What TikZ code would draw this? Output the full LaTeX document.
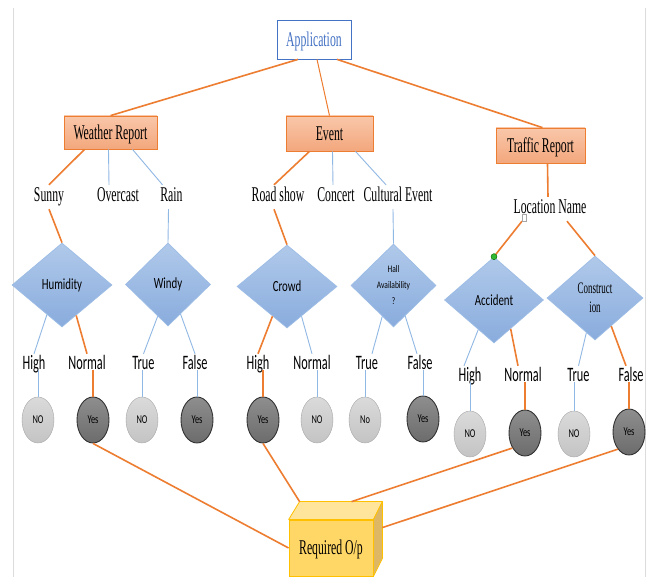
\documentclass[tikz,border=0pt]{standalone}
\usepackage{fontspec}
\usetikzlibrary{shapes.geometric,calc}
\newfontfamily\nrwserif[FakeStretch=0.56]{Liberation Serif}
\newfontfamily\nrwsans[FakeStretch=0.6]{Carlito}
\newfontfamily\dsans[FakeStretch=0.7]{Carlito}
\newfontfamily\hallsans[FakeStretch=0.75]{Carlito}
\definecolor{orangeline}{HTML}{ED7D31}
\definecolor{blueline}{HTML}{90B8E4}
\definecolor{appblue}{HTML}{4472C4}
\definecolor{salmonA}{HTML}{F9C7AA}
\definecolor{salmonB}{HTML}{F3A77C}
\definecolor{diaA}{HTML}{B0C9EA}
\definecolor{diaB}{HTML}{89ACDD}
\definecolor{diaedge}{HTML}{9DBDE6}
\definecolor{ltgA}{HTML}{DADADA}
\definecolor{ltgB}{HTML}{C4C4C4}
\definecolor{dkgA}{HTML}{8E8E8E}
\definecolor{dkgB}{HTML}{6C6C6C}
\definecolor{goldfront}{HTML}{FFD766}
\definecolor{goldtop}{HTML}{FFE49C}
\definecolor{goldside}{HTML}{DDB764}
\definecolor{goldedge}{HTML}{FFC000}
\definecolor{framegray}{HTML}{DCDCDC}
\tikzset{
  oline/.style={draw=orangeline, line width=1.6pt},
  othin/.style={draw=orangeline, line width=1pt},
  bline/.style={draw=blueline, line width=0.9pt},
  appbox/.style={draw=appblue, line width=0.8pt, fill=white, inner sep=0pt,
    minimum width=74pt, minimum height=39pt, text=appblue, text height=14pt, text depth=0pt,
    font=\nrwserif\fontsize{21}{21}\selectfont},
  catbox/.style={draw=orangeline, line width=0.8pt, top color=salmonA, bottom color=salmonB,
    inner sep=0pt, text height=14pt, text depth=0pt,
    font=\nrwserif\fontsize{21}{21}\selectfont},
  attr/.style={anchor=base, inner sep=0pt, inner ysep=3pt, text height=14pt, text depth=4pt,
    font=\nrwserif\fontsize{21}{21}\selectfont},
  leaf/.style={anchor=base, inner sep=0pt, inner ysep=3pt, text height=13pt, text depth=4pt,
    font=\nrwsans\fontsize{20.5}{20.5}\selectfont},
  decision/.style={diamond, draw=diaedge, line width=0.7pt, top color=diaA, bottom color=diaB,
    inner sep=0pt, align=center, font=\dsans\fontsize{15.5}{15.5}\selectfont},
  nocirc/.style={ellipse, draw=ltgB!85!black, line width=0.4pt, top color=ltgA, bottom color=ltgB,
    minimum width=32pt, minimum height=46pt, inner sep=0pt,
    font=\dsans\fontsize{12}{12}\selectfont},
  yescirc/.style={ellipse, draw=black!80, line width=0.9pt, top color=dkgA, bottom color=dkgB,
    minimum width=32pt, minimum height=46pt, inner sep=0pt,
    font=\dsans\fontsize{12}{12}\selectfont},
  outbox/.style={draw=goldedge, line width=0.8pt, fill=goldfront, inner sep=0pt,
    minimum width=84pt, minimum height=56pt, text height=14pt, text depth=0pt,
    font=\nrwserif\fontsize{21}{21}\selectfont},
}
\begin{document}
\begin{tikzpicture}[x=1pt,y=-1pt]
\useasboundingbox (0,0) rectangle (649,577);
\fill[white] (0,0) rectangle (649,577);
% page frame
\draw[framegray, line width=1pt] (13,8) -- (13,577);
\draw[framegray, line width=1pt] (645,8) -- (645,577);

% root and categories
\node[appbox] (app) at (314,39.5) {Application};
\node[catbox, minimum width=93pt, minimum height=33pt] (wr) at (110.5,132.5) {Weather Report};
\node[catbox, minimum width=87pt, minimum height=35pt] (ev) at (329.5,133.5) {Event};
\node[catbox, minimum width=89pt, minimum height=35pt] (tr) at (540.5,145.5) {Traffic Report};

% attribute values
\node[attr] (sunny) at (49,202) {Sunny};
\node[attr] (ovc) at (118,202) {Overcast};
\node[attr] (rain) at (171.5,202) {Rain};
\node[attr] (road) at (278,202) {Road show};
\node[attr] (conc) at (336,202) {Concert};
\node[attr] (cult) at (398,202) {Cultural Event};
\node[attr] (loc) at (550,214) {Location Name};

% decision nodes
\node[decision, minimum width=100pt, minimum height=84pt] (hum) at (62,285) {Humidity};
\node[decision, minimum width=85pt, minimum height=83pt] (windy) at (168,284.5) {Windy};
\node[decision, minimum width=100pt, minimum height=83pt] (crowd) at (287,286.5) {Crowd};
\node[decision, minimum width=85pt, minimum height=83pt,
      font=\hallsans\fontsize{10}{16}\selectfont] (hall) at (393.5,285.5) {Hall\\Availability\\?};
\node[decision, minimum width=99pt, minimum height=86pt] (acc) at (494,300) {Accident};
\node[decision, minimum width=96pt, minimum height=84pt,
      font=\nrwserif\fontsize{16}{19}\selectfont] (cons) at (595,298) {Construct\\ion};

% branch labels
\node[leaf] (l1) at (34,370) {High};
\node[leaf] (l2) at (87,370) {Normal};
\node[leaf] (l3) at (143.5,370) {True};
\node[leaf] (l4) at (195,370) {False};
\node[leaf] (l5) at (258,370) {High};
\node[leaf] (l6) at (312,370) {Normal};
\node[leaf] (l7) at (367,370) {True};
\node[leaf] (l8) at (420,370) {False};
\node[leaf] (l9) at (470,382) {High};
\node[leaf] (l10) at (523,382) {Normal};
\node[leaf] (l11) at (578.5,382) {True};
\node[leaf] (l12) at (631,382) {False};

% outcomes
\node[nocirc] (c1) at (38,420) {NO};
\node[yescirc] (c2) at (93,420) {Yes};
\node[nocirc] (c3) at (142,420) {NO};
\node[yescirc] (c4) at (197,420) {Yes};
\node[yescirc] (c5) at (263,420) {Yes};
\node[nocirc] (c6) at (317,420) {NO};
\node[nocirc] (c7) at (365,420) {No};
\node[yescirc] (c8) at (423,419) {Yes};
\node[nocirc] (c9) at (470,434) {NO};
\node[yescirc] (c10) at (525,433) {Yes};
\node[nocirc] (c11) at (574,434) {NO};
\node[yescirc] (c12) at (629,432) {Yes};

% result block drawn as a box
\node[outbox] (req) at (331,548) {Required O/p};
\coordinate (rqbl) at ($(req.north west)+(11,-18)$);
\coordinate (rqbr) at ($(req.north east)+(9,-18)$);
\coordinate (rqbe) at ($(req.south east)+(9,-18)$);
\filldraw[fill=goldtop, draw=goldedge, line width=0.8pt, line join=round]
  (req.north west) -- (rqbl) -- (rqbr) -- (req.north east) -- cycle;
\filldraw[fill=goldside, draw=goldedge, line width=0.8pt, line join=round]
  (req.north east) -- (rqbr) -- (rqbe) -- (req.south east) -- cycle;

% root to categories
\draw[oline] ([xshift=-16pt]app.south) -- (wr.north);
\draw[othin] ([xshift=3pt]app.south) -- (ev.north);
\draw[oline] ([xshift=23pt]app.south) -- ([xshift=2pt]tr.north);

% categories to values
\draw[oline] ([xshift=-26pt]wr.south) -- (sunny.north);
\draw[bline] ([xshift=-2pt]wr.south) -- ([xshift=-9pt]ovc.north);
\draw[bline] ([xshift=22pt]wr.south) -- ([xshift=-9pt]rain.north);
\draw[oline] ([xshift=-20pt]ev.south) -- ([xshift=-4pt]road.north);
\draw[bline] ([xshift=3pt]ev.south) -- ([xshift=-3pt]conc.north);
\draw[bline] ([xshift=26pt]ev.south) -- ([xshift=-12pt]cult.north);
\draw[oline] ([xshift=7pt]tr.south) -- ([xshift=-2pt]loc.north);

% values to decisions
\draw[oline] (sunny.south) -- (hum.north);
\draw[bline] ([xshift=-3pt]rain.south) -- (windy.north);
\draw[oline] ([xshift=-4pt]road.south) -- (crowd.north);
\draw[bline] ([xshift=-5pt]cult.south) -- (hall.north);
\draw[oline] ([xshift=-28pt]loc.south) -- (acc.north);
\draw[oline] ([xshift=17pt]loc.south) -- (cons.north);
\node[draw=gray!70, fill=white, line width=0.4pt, minimum width=4pt, minimum height=7pt, inner sep=0pt]
  (hdl) at (524,218) {};
\node[circle, fill=green!65!black!80, draw=green!40!black, line width=0.4pt, minimum size=6pt, inner sep=0pt]
  (gdot) at (acc.north) {};

% decisions to branch labels
\draw[bline] (hum.243) -- (l1.north);
\draw[oline] (hum.295) -- (l2.north);
\draw[bline] (windy.252) -- (l3.north);
\draw[bline] (windy.293) -- (l4.north);
\draw[oline] (crowd.244) -- (l5.north);
\draw[bline] (crowd.296) -- (l6.north);
\draw[bline] (hall.250) -- ([xshift=5pt]l7.north);
\draw[bline] (hall.291) -- ([xshift=-3pt]l8.north);
\draw[bline] (acc.242) -- ([xshift=-6pt]l9.north);
\draw[oline] (acc.300) -- ([xshift=-5pt]l10.north);
\draw[bline] (cons.256) -- (l11.north);
\draw[oline] (cons.300) -- ([xshift=-5pt]l12.north);

% branch labels to outcomes
\draw[bline] (c1.north |- l1.base) -- (c1.north);
\draw[oline] (c2.north |- l2.base) -- (c2.north);
\draw[bline] (c3.north |- l3.base) -- (c3.north);
\draw[bline] (c4.north |- l4.base) -- (c4.north);
\draw[oline] (c5.north |- l5.base) -- (c5.north);
\draw[bline] (c6.north |- l6.base) -- (c6.north);
\draw[bline] (c7.north |- l7.base) -- (c7.north);
\draw[bline] (c8.north |- l8.base) -- (c8.north);
\draw[bline] (c9.north |- l9.base) -- (c9.north);
\draw[oline] (c10.north |- l10.base) -- (c10.north);
\draw[bline] (c11.north |- l11.base) -- (c11.north);
\draw[oline] (c12.north |- l12.base) -- (c12.north);

% positive outcomes to the result block
\draw[oline] (c2.south) -- (req.west);
\draw[oline] (c5.south) -- (rqbl);
\draw[oline] (c10.230) -- ($(rqbl)+(52,0)$);
\draw[oline] (c12.237) -- ($(rqbr)+(0,26)$);
\end{tikzpicture}
\end{document}
